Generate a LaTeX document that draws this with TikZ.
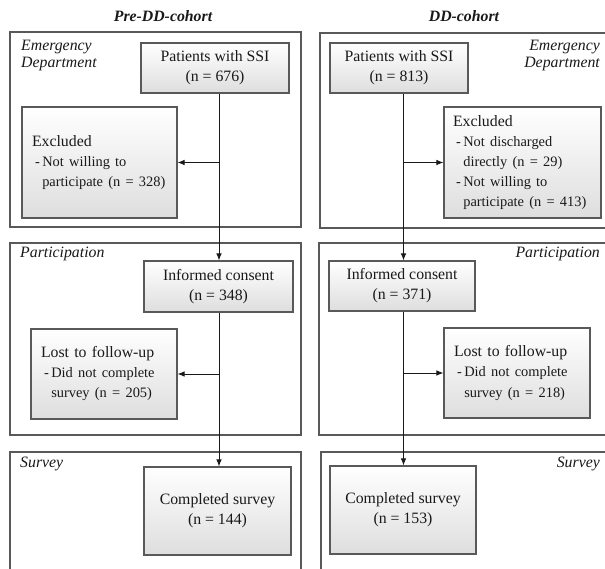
\documentclass[tikz,border=0pt]{standalone}
\usepackage{fontspec}
\setmainfont{Liberation Serif}
\usetikzlibrary{arrows.meta}
\newcommand\mainfs{\fontsize{15.8}{20}\selectfont}
\newcommand\subfs{\fontsize{14.4}{20}\selectfont}
\newcommand\lblfs{\fontsize{15.8}{17.5}\selectfont\itshape}
\begin{document}
\begin{tikzpicture}[x=1pt,y=1pt,
  panel/.style={draw=black!65, line width=1.1pt},
  fbox/.style={draw=black!65, line width=1.1pt, top color=white, bottom color=black!13,
    inner sep=0pt, align=center, font=\mainfs, text=black!90},
  lbox/.style={fbox, inner xsep=10pt, align=left},
  lbl/.style={font=\lblfs, inner sep=0pt, text=black!90},
  ttl/.style={font=\mainfs\bfseries\itshape, inner sep=0pt, anchor=base, text=black!90},
  arr/.style={line width=0.9pt, draw=black!90, -{Latex[length=7pt,width=5.5pt]}},
  ln/.style={line width=0.9pt, draw=black!90}]
\clip (0,0) rectangle (605,568);
\fill[white] (0,0) rectangle (605,568);
% titles
\node[ttl] (tL) at (163,546) {Pre-DD-cohort};
\node[ttl] (tR) at (464,546) {DD-cohort};
% panels
\draw[panel] (10,536) rectangle (301,341);
\draw[panel] (320,535) rectangle (615,340);
\draw[panel] (10,325) rectangle (301,133);
\draw[panel] (319,325) rectangle (615,133);
\draw[panel] (10,116) rectangle (301,-12);
\draw[panel] (321,116) rectangle (615,-12);
% panel labels
\node[lbl, anchor=north west, align=left] (edLl) at (21,528.5) {Emergency\\Department};
\node[lbl, anchor=north east, align=right] (edRl) at (600,528.5) {Emergency\\Department};
\node[lbl, anchor=base west] (paLl) at (20,310) {Participation};
\node[lbl, anchor=base east] (paRl) at (600,310) {Participation};
\node[lbl, anchor=base west] (suLl) at (20,101) {Survey};
\node[lbl, anchor=base east] (suRl) at (600,101) {Survey};
% left column boxes
\node[fbox, minimum width=148pt, minimum height=50pt] (pL) at (215,500) {Patients with SSI\\(n = 676)};
\node[fbox, minimum width=149pt, minimum height=51pt] (icL) at (218.5,281.5) {Informed consent\\(n = 348)};
\node[fbox, minimum width=147pt, minimum height=88pt] (cL) at (217.5,57) {Completed survey\\(n = 144)};
\node[lbox, text width=135pt, minimum height=111pt] (exL) at (99.5,405.5) {\subfs\begin{tabular}{@{\hspace{3pt}}l@{\hspace{2.5pt}}l@{}}
\multicolumn{2}{@{}l@{}}{\mainfs Excluded}\\
- & Not willing to\\
 & participate (n = 328)
\end{tabular}};
\node[lbox, text width=126pt, minimum height=90pt] (loL) at (104,194) {\subfs\begin{tabular}{@{\hspace{3pt}}l@{\hspace{2.5pt}}l@{}}
\multicolumn{2}{@{}l@{}}{\mainfs Lost to follow-up}\\
- & Did not complete\\
 & survey (n = 205)
\end{tabular}};
% right column boxes
\node[fbox, minimum width=138pt, minimum height=50pt] (pR) at (399,500) {Patients with SSI\\(n = 813)};
\node[fbox, minimum width=146pt, minimum height=50pt] (icR) at (402,282) {Informed consent\\(n = 371)};
\node[fbox, minimum width=146pt, minimum height=88pt] (cR) at (403,58) {Completed survey\\(n = 153)};
\node[lbox, inner xsep=9pt, text width=139pt, minimum height=111pt] (exR) at (522.5,405.5) {\subfs\begin{tabular}{@{\hspace{3pt}}l@{\hspace{2.5pt}}l@{}}
\multicolumn{2}{@{}l@{}}{\mainfs Excluded}\\
- & Not discharged\\
 & directly (n = 29)\\
- & Not willing to\\
 & participate (n = 413)
\end{tabular}};
\node[lbox, text width=126pt, minimum height=90pt] (loR) at (517,195) {\subfs\begin{tabular}{@{\hspace{3pt}}l@{\hspace{2.5pt}}l@{}}
\multicolumn{2}{@{}l@{}}{\mainfs Lost to follow-up}\\
- & Did not complete\\
 & survey (n = 218)
\end{tabular}};
% arrow axes
\coordinate (aL) at (219,0);
\coordinate (aR) at (403.5,0);
% connectors left
\draw[arr] (pL.south -| aL) -- (icL.north -| aL);
\draw[arr] (icL.south -| aL) -- (cL.north -| aL);
\draw[arr] (aL |- exL.east) -- (exL.east);
\draw[arr] (aL |- loL.east) -- (loL.east);
% connectors right
\draw[arr] (pR.south -| aR) -- (icR.north -| aR);
\draw[arr] (icR.south -| aR) -- (cR.north -| aR);
\draw[arr] (aR |- exR.west) -- (exR.west);
\draw[arr] (aR |- loR.west) -- (loR.west);
\end{tikzpicture}
\end{document}
